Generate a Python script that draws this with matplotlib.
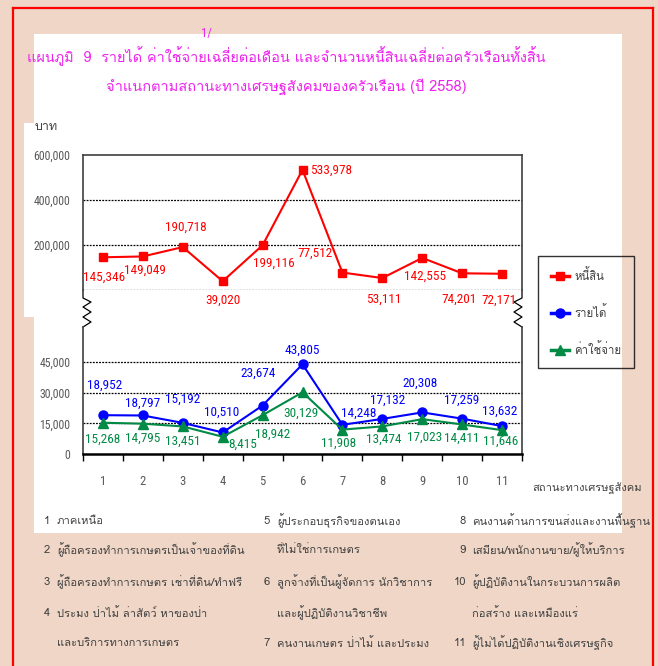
import matplotlib
matplotlib.use("Agg")
import matplotlib.pyplot as plt
from matplotlib import font_manager
from matplotlib.ft2font import FT2Font
from matplotlib.patches import Rectangle
from matplotlib.lines import Line2D

# ---- data ----
groups = [1, 2, 3, 4, 5, 6, 7, 8, 9, 10, 11]
debt = [145346, 149049, 190718, 39020, 199116, 533978, 77512, 53111, 142555, 74201, 72171]
income = [18952, 18797, 15192, 10510, 23674, 43805, 14248, 17132, 20308, 17259, 13632]
expense = [15268, 14795, 13451, 8415, 18942, 30129, 11908, 13474, 17023, 14411, 11646]
upper_ticks = [200000, 400000, 600000]
lower_ticks = [0, 15000, 30000, 45000]
series_names = ["หนี้สิน", "รายได้", "ค่าใช้จ่าย"]

title1 = "แผนภูมิ  9  รายได้ ค่าใช้จ่ายเฉลี่ยต่อเดือน และจำนวนหนี้สินเฉลี่ยต่อครัวเรือนทั้งสิ้น"
title2 = "จำแนกตามสถานะทางเศรษฐสังคมของครัวเรือน (ปี 2558)"

notes_col1 = [("1", "ภาคเหนือ"), ("2", "ผู้ถือครองทำการเกษตรเป็นเจ้าของที่ดิน"),
              ("3", "ผู้ถือครองทำการเกษตร เช่าที่ดิน/ทำฟรี"), ("4", "ประมง ป่าไม้ ล่าสัตว์ หาของป่า"),
              ("", "และบริการทางการเกษตร")]
notes_col2 = [("5", "ผู้ประกอบธุรกิจของตนเอง"), ("", "ที่ไม่ใช่การเกษตร"),
              ("6", "ลูกจ้างที่เป็นผู้จัดการ นักวิชาการ"), ("", "และผู้ปฏิบัติงานวิชาชีพ"),
              ("7", "คนงานเกษตร ป่าไม้ และประมง")]
notes_col3 = [("8", "คนงานด้านการขนส่งและงานพื้นฐาน"), ("9", "เสมียน/พนักงานขาย/ผู้ให้บริการ"),
              ("10", "ผู้ปฏิบัติงานในกระบวนการผลิต"), ("", "ก่อสร้าง และเหมืองแร่"),
              ("11", "ผู้ไม่ได้ปฏิบัติงานเชิงเศรษฐกิจ")]

# label offsets in pixels (dx, dy)
debt_off = [(1, -20), (2, -14), (3, 20), (0, -19), (11, -18), (8, 0), (-27, 19),
            (1, -21), (3, -18), (-3, -26), (-3, -27)]
income_off = [(2, 30), (0, 12), (0, 24), (-1, 20), (-4, 32), (0, 14), (16, 12),
              (5, 19), (-2, 29), (-1, 18), (-2, 15)]
expense_off = [(0, -17), (0, -15), (0, -15), (20, -8), (10, -19), (-2, -21), (-4, -14),
               (1, -13), (2, -18), (0, -14), (-1, -11)]

# ---- fonts ----
thai_font = None
for f in font_manager.fontManager.ttflist:
    try:
        cm = FT2Font(f.fname).get_charmap()
    except Exception:
        continue
    if 0x0E01 in cm and 0x0E49 in cm:
        thai_font = f.name
        break
names = {f.name for f in font_manager.fontManager.ttflist}
narrow = [n for n in ["Liberation Sans Narrow", "Roboto Condensed", "Open Sans Condensed",
                      "DejaVu Sans Condensed", "Noto Sans Condensed"] if n in names]
if narrow:
    NUM = [narrow[0], "DejaVu Sans"]
    lab_fs, tick_fs = 9.5, 8.5
else:
    NUM = ["Liberation Sans", "DejaVu Sans"]
    lab_fs, tick_fs = 8.2, 7.6
THAI = [thai_font, "DejaVu Sans"] if thai_font else ["DejaVu Sans"]

W, H = 658, 666
BEIGE = "#F0D6C6"
RED, BLUE, GREEN = "#FF0000", "#0000FF", "#008A45"
GRAY = "#404040"
MAGENTA = "#EE22EE"


def fx(x):
    return x / W


def fy(y):
    return 1 - y / H


fig = plt.figure(figsize=(W / 100, H / 100), dpi=100, facecolor=BEIGE)

# white panels and red frame
fig.patches.append(Rectangle((fx(34), fy(533)), fx(622) - fx(34), fy(34) - fy(533),
                             transform=fig.transFigure, facecolor="white", edgecolor="none", zorder=-5))
fig.patches.append(Rectangle((fx(24), fy(317)), fx(34) - fx(24), fy(123) - fy(317),
                             transform=fig.transFigure, facecolor="white", edgecolor="none", zorder=-5))
for xs, ys in [([13, 13], [8, 666]), ([653, 653], [8, 666]), ([13, 653], [8, 8])]:
    fig.add_artist(Line2D([fx(v) for v in xs], [fy(v) for v in ys], color=RED, lw=1.6))

# ---- upper axes (debt) ----
ax1 = fig.add_axes([fx(83), fy(290), fx(522) - fx(83), fy(155) - fy(290)])
ax1.set_zorder(2)
ax1.set_facecolor("none")
ax1.plot(groups, debt, color=RED, lw=1.5, marker="s", ms=5.5, zorder=3)
ax1.set_xlim(0.5, 11.5)
ax1.set_ylim(0, 600000)
ax1.set_yticks(upper_ticks)
ax1.set_yticklabels([f"{v:,}" for v in upper_ticks], family=NUM, fontsize=tick_fs, color="#595959")
ax1.tick_params(axis="y", length=0, pad=9)
ax1.set_xticks([])
for v in [0, 200000, 400000]:
    ax1.axhline(v, color="black", lw=0.9, ls=(0, (1.5, 1)), zorder=1)
ax1.spines["bottom"].set_visible(False)
for s in ["left", "right", "top"]:
    ax1.spines[s].set_color(GRAY)
    ax1.spines[s].set_linewidth(1.2)
for g, v, (dx, dy) in zip(groups, debt, debt_off):
    ax1.annotate(f"{v:,}", (g, v), xytext=(dx, dy), textcoords="offset pixels",
                 ha="left" if dx == 8 and dy == 0 else "center", va="center",
                 color=RED, family=NUM, fontsize=lab_fs)

# ---- lower axes (income / expense) ----
ax2 = fig.add_axes([fx(83), fy(454), fx(522) - fx(83), fy(327) - fy(454)])
ax2.set_zorder(2)
ax2.set_facecolor("none")
ax2.plot(groups, income, color=BLUE, lw=1.5, marker="o", ms=6.5, zorder=3, label=series_names[1])
ax2.plot(groups, expense, color=GREEN, lw=1.5, marker="^", ms=7, zorder=3, label=series_names[2])
ax2.set_xlim(0.5, 11.5)
ax2.set_ylim(0, 62000)
ax2.set_yticks(lower_ticks)
ax2.set_yticklabels([f"{v:,}" for v in lower_ticks], family=NUM, fontsize=tick_fs, color="#595959")
ax2.tick_params(axis="y", length=0, pad=9)
ax2.set_xticks(groups)
ax2.set_xticklabels([str(g) for g in groups], family=NUM, fontsize=tick_fs + 0.6, color="#595959")
ax2.set_xticks([g - 0.5 for g in groups] + [11.5], minor=True)
ax2.tick_params(axis="x", which="major", length=0, pad=15)
ax2.tick_params(axis="x", which="minor", length=5, width=1, color="black")
for v in [15000, 30000, 45000]:
    ax2.axhline(v, color="black", lw=0.9, ls=(0, (1.5, 1)), zorder=1)
ax2.spines["top"].set_visible(False)
for s in ["left", "right"]:
    ax2.spines[s].set_color(GRAY)
    ax2.spines[s].set_linewidth(1.2)
ax2.spines["bottom"].set_color("black")
ax2.spines["bottom"].set_linewidth(1.8)
for g, v, (dx, dy) in zip(groups, income, income_off):
    ax2.annotate(f"{v:,}", (g, v), xytext=(dx, dy), textcoords="offset pixels",
                 ha="center", va="center", color=BLUE, family=NUM, fontsize=lab_fs)
for g, v, (dx, dy) in zip(groups, expense, expense_off):
    ax2.annotate(f"{v:,}", (g, v), xytext=(dx, dy), textcoords="offset pixels",
                 ha="center", va="center", color=GREEN, family=NUM, fontsize=lab_fs)

# axis break zigzags
zz_y = [290, 298, 302, 307, 312, 317, 322, 327]
fig.add_artist(Line2D([fx(83)] * 2 + [fx(v) for v in [91, 83, 91, 83, 91, 83]],
                      [fy(v) for v in zz_y], color="black", lw=0.9))
fig.add_artist(Line2D([fx(522)] * 2 + [fx(v) for v in [514, 522, 514, 522, 514, 522]],
                      [fy(v) for v in zz_y], color="black", lw=0.9))

# legend
handles = [Line2D([], [], color=RED, lw=2.5, marker="s", ms=6),
           Line2D([], [], color=BLUE, lw=2.5, marker="o", ms=6.5),
           Line2D([], [], color=GREEN, lw=2.5, marker="^", ms=7.5)]
leg = fig.legend(handles, series_names, loc="upper left", bbox_to_anchor=(fx(538), fy(256)),
                 frameon=True, fancybox=False, edgecolor="black", facecolor="none",
                 prop={"family": THAI, "size": 8.2}, labelcolor=GRAY, handlelength=1.6,
                 handletextpad=0.5, labelspacing=2.0, borderpad=1.1, borderaxespad=0)
leg.get_frame().set_linewidth(1.0)

# titles and axis labels
fig.text(fx(206), fy(33), "1/", color=MAGENTA, fontsize=9, family=NUM, ha="center", va="center")
fig.text(fx(286), fy(56), title1, color=MAGENTA, fontsize=10.4, family=THAI, ha="center", va="center")
fig.text(fx(286), fy(87), title2, color=MAGENTA, fontsize=10.5, family=THAI, ha="center", va="center")
fig.text(fx(35), fy(127), "บาท", color=GRAY, fontsize=9, family=THAI, ha="left", va="center")
fig.text(fx(532), fy(488), "สถานะทางเศรษฐสังคม", color=GRAY, fontsize=8, family=THAI, ha="left", va="center")

# footnotes
rows_y = [521, 550, 582, 613, 643]
for col, num_x, txt_x in [(notes_col1, 50, 57), (notes_col2, 270, 277), (notes_col3, 466, 472)]:
    for (num, txt), y in zip(col, rows_y):
        if num:
            fig.text(fx(num_x), fy(y), num, color=GRAY, fontsize=8.1, family=THAI, ha="right", va="center")
        fig.text(fx(txt_x), fy(y), txt, color=GRAY, fontsize=8.1, family=THAI, ha="left", va="center")

fig.savefig("out.png", dpi=100, facecolor=BEIGE)
